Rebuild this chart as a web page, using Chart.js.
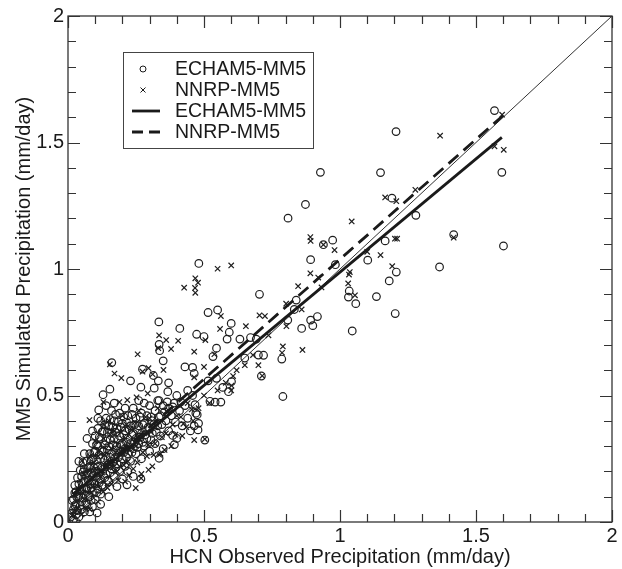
<!DOCTYPE html>
<html>
<head>
<meta charset="utf-8">
<script src="https://cdn.jsdelivr.net/npm/chart.js@4.4.1/dist/chart.umd.min.js"></script>
<style>
  html, body { margin: 0; padding: 0; background: #fff; }
  #wrap { width: 622px; height: 569px; }
</style>
</head>
<body>
<div id="wrap"><canvas id="chart" width="622" height="569"></canvas></div>
<script>
// Axis ticks (major ones get a label)
const majorTicks = [0, 0.5, 1, 1.5, 2];

// ECHAM5-MM5 points (observed, simulated)
const echamPoints = [
  [1.568,1.626],[1.206,1.543],[0.928,1.382],[1.149,1.381],[1.595,1.382],[0.873,1.255],[1.191,1.28],
  [0.809,1.201],[1.279,1.212],[1.418,1.136],[1.601,1.091],[0.973,1.114],[0.939,1.096],[1.166,1.111],
  [0.892,1.037],[1.102,1.035],[0.983,1.017],[1.366,1.008],[1.207,0.988],[1.181,0.953],[1.031,0.889],
  [1.134,0.891],[1.034,0.913],[1.058,0.863],[1.203,0.824],[1.045,0.755],[0.704,0.9],[0.892,0.798],
  [0.917,0.812],[0.900,0.776],[0.859,0.765],[0.808,0.798],[0.832,0.84],[0.839,0.877],[0.790,0.496],
  [0.786,0.644],[0.711,0.577],[0.719,0.659],[0.700,0.660],[0.692,0.723],[0.650,0.648],[0.671,0.729],
  [0.632,0.723],[0.600,0.785],[0.550,0.838],[0.515,0.828],[0.593,0.75],[0.585,0.723],[0.546,0.687],
  [0.533,0.654],[0.473,0.742],[0.500,0.733],[0.481,1.022],[0.411,0.765],[0.334,0.791],[0.335,0.702],
  [0.337,0.677],[0.35,0.637],[0.430,0.613],[0.458,0.611],[0.464,0.587],[0.515,0.558],[0.546,0.568],
  [0.590,0.515],[0.601,0.555],[0.569,0.532],[0.541,0.474],[0.562,0.474],[0.522,0.477],[0.467,0.464],
  [0.458,0.5],[0.475,0.424],[0.464,0.38],[0.478,0.364],[0.503,0.324],[0.391,0.306],[0.385,0.342],
  [0.367,0.515],[0.335,0.48],[0.332,0.558],[0.317,0.529],[0.314,0.579],[0.274,0.604],[0.230,0.558],
  [0.268,0.533],[0.161,0.630],[0.129,0.503],[0.113,0.443],[0.154,0.525],[0.335,0.252],[0.217,0.147],
  [0.268,0.170],[0.107,0.036],[0.056,0.198],
  [0.01,0.02],[0.02,0.05],[0.02,0.09],[0.03,0.03],[0.03,0.12],[0.03,0.07],[0.04,0.02],[0.04,0.10],
  [0.04,0.15],[0.05,0.05],[0.05,0.08],[0.05,0.13],[0.05,0.18],[0.06,0.04],[0.06,0.11],[0.06,0.16],
  [0.06,0.21],[0.07,0.07],[0.07,0.13],[0.07,0.19],[0.07,0.24],[0.08,0.10],[0.08,0.15],[0.08,0.22],
  [0.08,0.27],[0.09,0.06],[0.09,0.12],[0.09,0.18],[0.09,0.25],[0.09,0.31],[0.10,0.09],[0.10,0.15],
  [0.10,0.20],[0.10,0.28],[0.10,0.34],[0.11,0.13],[0.11,0.22],[0.11,0.30],[0.11,0.37],[0.12,0.11],
  [0.12,0.17],[0.12,0.25],[0.12,0.33],[0.12,0.40],[0.13,0.14],[0.13,0.21],[0.13,0.28],[0.13,0.36],
  [0.14,0.19],[0.14,0.26],[0.14,0.32],[0.14,0.41],[0.15,0.16],[0.15,0.23],[0.15,0.30],[0.15,0.38],
  [0.16,0.21],[0.16,0.27],[0.16,0.35],[0.16,0.44],[0.17,0.18],[0.17,0.25],[0.17,0.33],[0.17,0.40],
  [0.18,0.23],[0.18,0.30],[0.18,0.37],[0.19,0.20],[0.19,0.28],[0.19,0.34],[0.19,0.43],[0.20,0.25],
  [0.20,0.31],[0.20,0.39],[0.21,0.22],[0.21,0.29],[0.21,0.36],[0.22,0.27],[0.22,0.33],[0.22,0.42],
  [0.23,0.24],[0.23,0.31],[0.23,0.38],[0.24,0.29],[0.24,0.35],[0.24,0.45],[0.25,0.27],[0.25,0.33],
  [0.25,0.41],[0.26,0.31],[0.26,0.38],[0.26,0.48],[0.27,0.25],[0.27,0.35],[0.27,0.43],[0.28,0.30],
  [0.28,0.39],[0.28,0.47],[0.29,0.33],[0.29,0.42],[0.30,0.28],[0.30,0.37],[0.30,0.46],[0.31,0.35],
  [0.31,0.40],[0.32,0.31],[0.32,0.44],[0.33,0.38],[0.33,0.48],[0.34,0.34],[0.34,0.42],[0.35,0.29],
  [0.35,0.46],[0.36,0.40],[0.37,0.36],[0.37,0.45],[0.38,0.42],[0.39,0.47],[0.40,0.33],[0.41,0.44],
  [0.42,0.38],[0.43,0.46],[0.44,0.41],[0.45,0.36],[0.47,0.43],[0.48,0.39],
  [0.02,0.01],[0.03,0.00],[0.08,0.04],[0.12,0.07],[0.15,0.10],[0.18,0.14],[0.20,0.17],[0.22,0.20],
  [0.24,0.18],[0.37,0.55],[0.40,0.50],[0.44,0.52],[0.06,0.27],[0.09,0.36],[0.11,0.41],[0.14,0.46],
  [0.07,0.33],[0.04,0.24],[0.17,0.47],[0.21,0.45],
  [0.015,0.035],[0.025,0.065],[0.035,0.045],[0.035,0.095],[0.045,0.065],[0.045,0.125],[0.055,0.095],
  [0.055,0.155],[0.065,0.075],[0.065,0.135],[0.065,0.185],[0.075,0.105],[0.075,0.165],[0.075,0.215],
  [0.085,0.085],[0.085,0.135],[0.085,0.195],[0.085,0.245],[0.095,0.155],[0.095,0.215],[0.095,0.275],
  [0.105,0.115],[0.105,0.175],[0.105,0.245],[0.105,0.305],[0.115,0.155],[0.115,0.195],[0.115,0.265],
  [0.115,0.335],[0.125,0.145],[0.125,0.215],[0.125,0.285],[0.125,0.355],[0.135,0.175],[0.135,0.245],
  [0.135,0.305],[0.135,0.385],[0.145,0.165],[0.145,0.225],[0.145,0.285],[0.145,0.355],[0.155,0.195],
  [0.155,0.255],[0.155,0.325],[0.155,0.405],[0.165,0.235],[0.165,0.305],[0.165,0.375],[0.175,0.215],
  [0.175,0.285],[0.175,0.355],[0.175,0.425],[0.185,0.255],[0.185,0.325],[0.185,0.395],[0.195,0.235],
  [0.195,0.305],[0.195,0.375],[0.205,0.275],[0.205,0.345],[0.205,0.415],[0.215,0.255],[0.215,0.315],
  [0.215,0.395],[0.225,0.295],[0.225,0.365],[0.235,0.275],[0.235,0.345],[0.235,0.425],[0.245,0.315],
  [0.245,0.385],[0.255,0.295],[0.255,0.365],[0.265,0.335],[0.265,0.415],[0.275,0.315],[0.275,0.385],
  [0.285,0.345],[0.295,0.375],[0.305,0.325],[0.305,0.415],[0.315,0.385],[0.325,0.355],[0.335,0.415],
  [0.345,0.385],[0.355,0.435],[0.365,0.475],[0.385,0.455],[0.395,0.395],[0.415,0.475],[0.025,0.145],
  [0.035,0.175],[0.045,0.205],[0.055,0.235],[0.015,0.085],[0.025,0.115]
];

// NNRP-MM5 points
const nnrpPoints = [
  [1.596,1.61],[1.602,1.471],[1.568,1.485],[1.368,1.527],[1.043,1.188],[1.166,1.283],[1.207,1.268],
  [1.277,1.313],[1.418,1.124],[1.202,1.12],[1.21,1.12],[0.891,1.126],[0.892,1.111],[0.939,1.096],
  [0.980,1.075],[1.100,1.068],[1.149,1.055],[1.192,1.011],[1.033,0.978],[1.036,0.988],[0.891,0.983],
  [1.030,0.943],[1.055,0.896],[0.920,0.966],[0.932,0.927],[0.846,0.932],[0.802,0.863],[0.859,0.840],
  [0.803,0.774],[0.704,0.817],[0.724,0.814],[0.790,0.694],[0.787,0.669],[0.862,0.680],[0.737,0.738],
  [0.654,0.774],[0.714,0.578],[0.607,0.577],[0.601,0.539],[0.550,1.001],[0.600,1.014],[0.468,0.963],
  [0.478,0.946],[0.467,0.925],[0.468,0.906],[0.427,0.926],[0.562,0.814],[0.559,0.763],[0.505,0.719],
  [0.464,0.673],[0.538,0.663],[0.500,0.613],[0.464,0.572],[0.424,0.388],[0.464,0.324],[0.503,0.328],
  [0.335,0.738],[0.332,0.687],[0.361,0.719],[0.379,0.684],[0.405,0.716],[0.256,0.663],[0.154,0.623],
  [0.171,0.587],[0.196,0.569],[0.274,0.594],[0.296,0.608],[0.311,0.584],[0.351,0.601],[0.079,0.403],
  [0.130,0.474],[0.189,0.474],[0.218,0.482],[0.252,0.493],[0.293,0.508],[0.249,0.134],[0.269,0.173],
  [0.296,0.206],[0.335,0.266],[0.051,0.242],[0.132,0.385],[0.161,0.359],
  [0.02,0.04],[0.03,0.08],[0.04,0.13],[0.05,0.03],[0.06,0.09],[0.06,0.19],[0.07,0.15],[0.08,0.05],
  [0.08,0.26],[0.09,0.14],[0.10,0.21],[0.10,0.32],[0.11,0.08],[0.11,0.26],[0.12,0.18],[0.13,0.33],
  [0.13,0.12],[0.14,0.23],[0.15,0.40],[0.16,0.15],[0.16,0.29],[0.17,0.36],[0.18,0.20],[0.19,0.27],
  [0.20,0.42],[0.21,0.16],[0.21,0.33],[0.22,0.24],[0.23,0.37],[0.24,0.21],[0.25,0.30],[0.26,0.44],
  [0.27,0.19],[0.28,0.35],[0.29,0.26],[0.30,0.41],[0.31,0.22],[0.32,0.31],[0.33,0.45],[0.34,0.27],
  [0.36,0.35],[0.38,0.30],[0.40,0.42],[0.42,0.34],[0.44,0.47],[0.46,0.40],[0.48,0.45],[0.50,0.50],
  [0.52,0.47],[0.55,0.52],[0.58,0.55],[0.60,0.52],[0.62,0.60],[0.65,0.62],[0.68,0.66],[0.70,0.62],
  [0.015,0.025],[0.025,0.105],[0.035,0.055],[0.045,0.165],[0.055,0.115],[0.065,0.055],[0.075,0.205],
  [0.085,0.115],[0.095,0.235],[0.105,0.145],[0.115,0.285],[0.125,0.195],[0.135,0.265],[0.145,0.135],
  [0.155,0.345],[0.165,0.215],[0.175,0.275],[0.185,0.165],[0.195,0.355],[0.205,0.225],[0.215,0.385],
  [0.225,0.185],[0.235,0.295],[0.245,0.395],[0.255,0.235],[0.265,0.325],[0.275,0.275],[0.285,0.415],
  [0.295,0.305],[0.305,0.355],[0.315,0.265],[0.325,0.395],[0.345,0.335],[0.355,0.285],[0.365,0.435],
  [0.385,0.385],[0.395,0.345],[0.415,0.415],[0.435,0.375],[0.455,0.445]
];

// regression fits and the 1:1 line (end points)
const echamFit = [[0.02, 0.11], [1.595, 1.52]];
const nnrpFit = [[0.02, 0.11], [1.60, 1.607]];
const oneToOne = [[0, 0], [2, 2]];

const FONT = '"Liberation Sans", Arial, Helvetica, sans-serif';
const INK = '#1a1a1a';

const toXY = pts => pts.map(p => ({ x: p[0], y: p[1] }));

// frame with inward major/minor ticks on all four sides
const frameTicks = {
    id: 'frameTicks',
    afterDatasetsDraw(chart) {
        const { ctx, chartArea: a, scales } = chart;
        ctx.save();
        ctx.strokeStyle = '#333';
        ctx.lineWidth = 1.3;
        ctx.strokeRect(a.left, a.top, a.right - a.left, a.bottom - a.top);
        ctx.lineWidth = 1.2;
        const isMajor = v => majorTicks.some(t => Math.abs(t - v) < 1e-6);
        scales.x.ticks.forEach(t => {
            const px = Math.round(scales.x.getPixelForValue(t.value)) + 0.5;
            const len = isMajor(t.value) ? 12 : 8;
            ctx.beginPath();
            ctx.moveTo(px, a.bottom); ctx.lineTo(px, a.bottom - len);
            ctx.moveTo(px, a.top); ctx.lineTo(px, a.top + len);
            ctx.stroke();
        });
        scales.y.ticks.forEach(t => {
            const py = Math.round(scales.y.getPixelForValue(t.value)) + 0.5;
            const len = isMajor(t.value) ? 12 : 8;
            ctx.beginPath();
            ctx.moveTo(a.left, py); ctx.lineTo(a.left + len, py);
            ctx.moveTo(a.right, py); ctx.lineTo(a.right - len, py);
            ctx.stroke();
        });
        ctx.restore();
    }
};

// boxed legend inside the plot
const boxLegend = {
    id: 'boxLegend',
    afterDraw(chart) {
        const ctx = chart.ctx;
        const bx = 123.5, by = 52.5, bw = 190, bh = 96;
        ctx.save();
        ctx.fillStyle = '#fff';
        ctx.fillRect(bx, by, bw, bh);
        ctx.strokeStyle = '#444';
        ctx.lineWidth = 1;
        ctx.strokeRect(bx, by, bw, bh);
        const rows = [69, 90, 111, 132];
        const mx = 143, tx = 175;
        ctx.strokeStyle = INK;
        // circle
        ctx.lineWidth = 1;
        ctx.beginPath(); ctx.arc(mx, rows[0], 3, 0, Math.PI * 2); ctx.stroke();
        // cross
        ctx.beginPath();
        ctx.moveTo(mx - 2.5, rows[1] - 2.5); ctx.lineTo(mx + 2.5, rows[1] + 2.5);
        ctx.moveTo(mx + 2.5, rows[1] - 2.5); ctx.lineTo(mx - 2.5, rows[1] + 2.5);
        ctx.stroke();
        // solid
        ctx.lineWidth = 2.8;
        ctx.beginPath(); ctx.moveTo(132, rows[2]); ctx.lineTo(160, rows[2]); ctx.stroke();
        // dashed
        ctx.setLineDash([11, 6]);
        ctx.beginPath(); ctx.moveTo(132, rows[3]); ctx.lineTo(160, rows[3]); ctx.stroke();
        ctx.setLineDash([]);
        ctx.fillStyle = INK;
        ctx.font = '19.5px ' + FONT;
        ctx.textBaseline = 'middle';
        const names = ['ECHAM5-MM5', 'NNRP-MM5', 'ECHAM5-MM5', 'NNRP-MM5'];
        names.forEach((n, i) => ctx.fillText(n, tx, rows[i] + 1));
        ctx.restore();
    }
};

const tickLabel = v => majorTicks.some(t => Math.abs(t - v) < 1e-6) ? String(+v.toFixed(1)) : '';

const axisBase = {
    type: 'linear', min: 0, max: 2,
    grid: { display: false, drawTicks: false },
    border: { display: false },
    ticks: {
        stepSize: 0.1, autoSkip: false, maxRotation: 0,
        color: INK, font: { family: FONT, size: 20 },
        callback: tickLabel
    }
};

new Chart(document.getElementById('chart'), {
    type: 'scatter',
    data: {
        datasets: [
            { label: '1:1', data: toXY(oneToOne), showLine: true, pointRadius: 0, borderColor: '#333', borderWidth: 1, order: 5 },
            { label: 'ECHAM5-MM5', data: toXY(echamPoints), pointStyle: 'circle', pointRadius: 3.8,
              borderColor: '#1e1e1e', backgroundColor: 'rgba(0,0,0,0)', borderWidth: 1.2, order: 4 },
            { label: 'NNRP-MM5', data: toXY(nnrpPoints), pointStyle: 'crossRot', pointRadius: 3.8,
              borderColor: '#1e1e1e', borderWidth: 1.2, order: 3 },
            { label: 'ECHAM5-MM5 fit', data: toXY(echamFit), showLine: true, pointRadius: 0, borderColor: INK, borderWidth: 2.8, order: 2 },
            { label: 'NNRP-MM5 fit', data: toXY(nnrpFit), showLine: true, pointRadius: 0, borderColor: INK, borderWidth: 2.8,
              borderDash: [13, 7], order: 1 }
        ]
    },
    options: {
        responsive: false,
        animation: false,
        layout: { padding: { top: 16, right: 10, left: 12, bottom: 0 } },
        plugins: { legend: { display: false }, tooltip: { enabled: false } },
        scales: {
            x: Object.assign({}, axisBase, {
                ticks: Object.assign({}, axisBase.ticks, { padding: 2 }),
                title: { display: true, text: 'HCN Observed Precipitation (mm/day)', color: INK,
                         font: { family: FONT, size: 20 }, padding: { top: 0, bottom: 0 } },
                afterFit(s) { s.height = 47; }
            }),
            y: Object.assign({}, axisBase, {
                ticks: Object.assign({}, axisBase.ticks, { padding: 4 }),
                title: { display: true, text: 'MM5 Simulated Precipitation (mm/day)', color: INK,
                         font: { family: FONT, size: 20 }, padding: { top: 0, bottom: 0 } },
                afterFit(s) { s.width = 56; }
            })
        }
    },
    plugins: [frameTicks, boxLegend]
});
</script>
</body>
</html>
